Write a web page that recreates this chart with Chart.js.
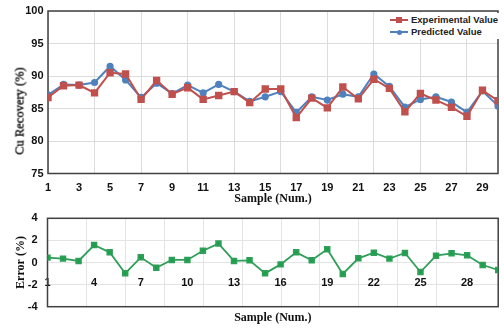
<!DOCTYPE html>
<html>
<head>
<meta charset="utf-8">
<script src="https://cdn.jsdelivr.net/npm/chart.js@4.4.1/dist/chart.umd.min.js"></script>
<style>
  body { margin: 0; background: #fff; width: 504px; height: 330px; overflow: hidden; position: relative; font-family: 'Liberation Sans', Arial, sans-serif; }
  .box { position: absolute; left: 0; width: 504px; }
  #topBox { top: 0; height: 210px; }
  #botBox { top: 210px; height: 120px; }
  #cuTitle { position: absolute; left: 20px; top: 111px; transform: translate(-50%, -50%) rotate(-90deg); font: 12.5px 'Liberation Serif', 'Times New Roman', serif; color: #000; -webkit-text-stroke: 0.3px #000; white-space: nowrap; }
  #legend { position: absolute; left: 388px; top: 13px; width: 113px; height: 26px; background: #fff; }
  .row { position: absolute; left: 0; height: 12px; font: bold 9.5px 'Liberation Sans', Arial, sans-serif; color: #222; line-height: 12px; white-space: nowrap; }
  .row .ln { position: absolute; left: 2px; top: 5px; width: 18px; height: 2px; }
  .row .mk { position: absolute; }
  .row span { position: absolute; left: 23px; top: 0; }
</style>
</head>
<body>
<div class="box" id="topBox"><canvas id="recoveryChart"></canvas></div>
<div class="box" id="botBox"><canvas id="errorChart"></canvas></div>
<div id="cuTitle">Cu Recovery (%)</div>
<div id="legend">
  <div class="row" style="top:1px"><i class="ln" style="background:#c0504d"></i><i class="mk" style="left:8px;top:3px;width:6px;height:6px;background:#c0504d"></i><span>Experimental Value</span></div>
  <div class="row" style="top:13px"><i class="ln" style="background:#4f81bd"></i><i class="mk" style="left:8.5px;top:3.5px;width:5px;height:5px;border-radius:50%;background:#4f81bd"></i><span>Predicted Value</span></div>
</div>
<script>
const samples = [1, 2, 3, 4, 5, 6, 7, 8, 9, 10, 11, 12, 13, 14, 15, 16, 17, 18, 19, 20, 21, 22, 23, 24, 25, 26, 27, 28, 29, 30];
const experimental = [86.7, 88.5, 88.6, 87.4, 90.5, 90.3, 86.4, 89.3, 87.2, 88.2, 86.4, 87.0, 87.6, 85.9, 88.0, 88.0, 83.6, 86.6, 85.1, 88.3, 86.5, 89.5, 88.1, 84.5, 87.3, 86.3, 85.2, 83.8, 87.8, 86.2];
const predicted = [87.1, 88.7, 88.6, 89.0, 91.5, 89.4, 86.7, 88.9, 87.3, 88.6, 87.4, 88.7, 87.6, 86.1, 86.8, 87.6, 84.4, 86.8, 86.3, 87.2, 86.8, 90.3, 88.4, 85.2, 86.4, 86.8, 86.0, 84.4, 87.7, 85.4];
const errorPct = [0.44, 0.35, 0.14, 1.58, 0.92, -0.98, 0.47, -0.47, 0.23, 0.23, 1.07, 1.71, 0.14, 0.2, -0.98, -0.17, 0.92, 0.2, 1.19, -1.04, 0.38, 0.89, 0.35, 0.86, -0.86, 0.62, 0.83, 0.65, -0.23, -0.68];

const topTickLabels = [1, 3, 5, 7, 9, 11, 13, 15, 17, 19, 21, 23, 25, 27, 29];
const bottomTickLabels = [1, 4, 7, 10, 13, 16, 19, 22, 25, 28];
const topGridSamples = [1, 4, 7, 10, 13, 16, 19, 22, 25, 28];

const tickFont = { family: 'Liberation Sans', weight: 'bold', size: 11 };
const titleFont = { family: 'Liberation Serif', weight: 'bold', size: 12 };

// frame round the plot area
const plotBox = {
    id: 'plotBox',
    beforeDatasetsDraw(chart) {
        const { ctx, chartArea: a } = chart;
        ctx.save();
        ctx.strokeStyle = '#404040';
        ctx.lineWidth = 1.5;
        ctx.strokeRect(a.left, a.top, a.right - a.left, a.bottom - a.top);
        ctx.restore();
    }
};

// fixed axis sizes, and no extra padding from the tick labels
const fixWidth = w => s => { s.width = w; s.paddingTop = 0; s.paddingBottom = 0; };
const fixHeight = h => s => { s.height = h; s.paddingLeft = 0; s.paddingRight = 0; };

const pts = arr => arr.map((v, i) => ({ x: samples[i], y: v }));

new Chart(document.getElementById('recoveryChart'), {
    type: 'line',
    data: {
        datasets: [{
            label: 'Experimental Value',
            data: pts(experimental),
            borderColor: '#c0504d', backgroundColor: '#c0504d',
            borderWidth: 2, pointStyle: 'rect', pointRadius: 3.8, tension: 0
        }, {
            label: 'Predicted Value',
            data: pts(predicted),
            borderColor: '#4f81bd', backgroundColor: '#4f81bd',
            borderWidth: 2, pointStyle: 'circle', pointRadius: 2.6, tension: 0
        }]
    },
    options: {
        responsive: true, maintainAspectRatio: false, animation: false,
        layout: { padding: { left: 0, right: 1, top: 11, bottom: 0 } },
        plugins: { legend: { display: false }, tooltip: { enabled: false } },
        scales: {
            x: {
                type: 'linear', min: 1, max: 30,
                afterFit: fixHeight(36.5),
                ticks: {
                    stepSize: 1, autoSkip: false, maxRotation: 0, padding: 8, color: '#111', font: tickFont,
                    callback: v => topTickLabels.includes(v) ? v : ''
                },
                grid: { drawTicks: false, color: c => topGridSamples.includes(c.tick && c.tick.value) ? '#dcdcdc' : 'rgba(0,0,0,0)' },
                border: { display: false },
                title: { display: true, text: 'Sample (Num.)', color: '#111', font: titleFont, padding: { top: 0, bottom: 3.8 } }
            },
            y: {
                min: 75, max: 100,
                afterFit: fixWidth(48),
                ticks: { stepSize: 5, padding: 4.5, color: '#111', font: tickFont },
                grid: { drawTicks: false, color: '#dcdcdc' },
                border: { display: false }
            }
        }
    },
    plugins: [plotBox]
});

new Chart(document.getElementById('errorChart'), {
    type: 'line',
    data: {
        datasets: [{
            label: 'Error',
            data: pts(errorPct),
            xAxisID: 'x2',
            borderColor: '#2e9e58', backgroundColor: '#1aa04a',
            borderWidth: 1.8, pointStyle: 'rect', pointRadius: 3.3, tension: 0
        }]
    },
    options: {
        responsive: true, maintainAspectRatio: false, animation: false,
        layout: { padding: { left: 0, right: 1, top: 8.3, bottom: 0 } },
        plugins: { legend: { display: false }, tooltip: { enabled: false } },
        scales: {
            x: {
                type: 'linear', min: 0, max: 11.58,
                afterFit: fixHeight(23.3),
                ticks: { display: false, stepSize: 1 },
                grid: { drawTicks: false, color: '#e4e4e4' },
                border: { display: false },
                title: { display: true, text: 'Sample (Num.)', color: '#111', font: titleFont, padding: { top: 0, bottom: 4.8 } }
            },
            x2: {
                type: 'linear', axis: 'x', position: { y: 0 }, min: 1, max: 30,
                afterFit: fixHeight(0),
                ticks: {
                    stepSize: 1, autoSkip: false, maxRotation: 0, padding: 6, color: '#111', font: tickFont,
                    callback: v => bottomTickLabels.includes(v) ? v : ''
                },
                grid: { display: false },
                border: { display: false }
            },
            y: {
                min: -4, max: 4,
                afterFit: fixWidth(47.5),
                ticks: { stepSize: 2, padding: 10, color: '#111', font: tickFont },
                grid: { drawTicks: false, color: '#e4e4e4' },
                border: { display: false },
                title: { display: true, text: 'Error (%)', color: '#111', font: titleFont, padding: { top: 13.8, bottom: 0 } }
            }
        }
    },
    plugins: [plotBox]
});
</script>
</body>
</html>
